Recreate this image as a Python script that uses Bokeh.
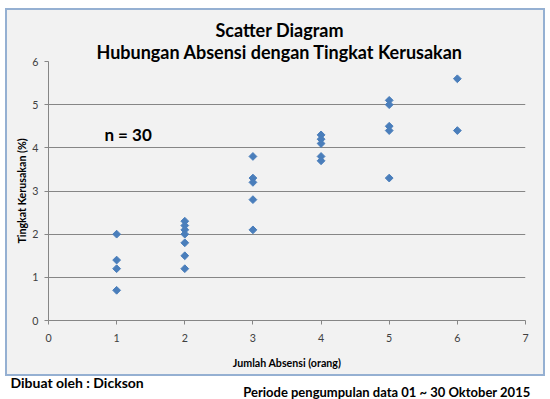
import math
from bokeh.plotting import figure
from bokeh.models import ColumnDataSource, Label, FixedTicker, Range1d, Title
from bokeh.embed import file_html
from bokeh.resources import INLINE

# Data
absensi = [1, 1, 1, 1,
           2, 2, 2, 2, 2, 2, 2,
           3, 3, 3, 3, 3,
           4, 4, 4, 4, 4,
           5, 5, 5, 5, 5,
           6, 6]
kerusakan = [2.0, 1.4, 1.2, 0.7,
             2.3, 2.2, 2.1, 2.0, 1.8, 1.5, 1.2,
             3.8, 3.3, 3.2, 2.8, 2.1,
             4.3, 4.2, 4.1, 3.8, 3.7,
             5.1, 5.0, 4.5, 4.4, 3.3,
             5.6, 4.4]
x_ticks = [0, 1, 2, 3, 4, 5, 6, 7]
y_ticks = [0, 1, 2, 3, 4, 5, 6]

title_line1 = "Scatter Diagram"
title_line2 = "Hubungan Absensi dengan Tingkat Kerusakan"
n_text = "n = 30"
x_label = "Jumlah Absensi (orang)"
y_label = "Tingkat Kerusakan (%)"
footer_left = "Dibuat oleh : Dickson"
footer_right = "Periode pengumpulan data 01 ~ 30 Oktober 2015"

FONT = "Lato"
BG = "#f2f2f2"
W, H = 550, 399

p = figure(width=W, height=H, output_backend="svg", toolbar_location=None,
           x_range=Range1d(0, 7), y_range=Range1d(0, 6),
           min_border_left=48, min_border_right=25,
           min_border_top=61, min_border_bottom=79, title=None)
p.background_fill_color = BG
p.border_fill_color = None
p.outline_line_color = None
# grey chart area with a light blue frame, white strip below it
p.styles = {
    "background-color": "white",
    "background-image": "linear-gradient(#f2f2f2, #f2f2f2), linear-gradient(#95b0d2, #95b0d2)",
    "background-position": "7px 10px, 5px 8px",
    "background-size": "536px 364px, 540px 368px",
    "background-repeat": "no-repeat",
}

# titles (the first added sits next to the frame)
p.add_layout(Title(text=title_line2, align="left", offset=48,
                   text_font=FONT, text_font_size="18px", text_font_style="bold",
                   text_color="black", standoff=-2), "above")
p.add_layout(Title(text=title_line1, align="left", offset=167,
                   text_font=FONT, text_font_size="18px", text_font_style="bold",
                   text_color="black", standoff=-2), "above")

src = ColumnDataSource(dict(x=absensi, y=kerusakan))
p.scatter("x", "y", source=src, marker="square", angle=math.pi / 4, size=5.5,
          fill_color="#4a7ebb", line_color="#4a7ebb")

for ax in (p.xaxis[0], p.yaxis[0]):
    ax.axis_line_color = "#868686"
    ax.major_tick_line_color = "#868686"
    ax.major_tick_out = 4
    ax.major_tick_in = 0
    ax.minor_tick_line_color = None
    ax.major_label_text_font = FONT
    ax.major_label_text_font_size = "8pt"
    ax.major_label_text_color = "#404040"
    ax.axis_label_text_font = FONT
    ax.axis_label_text_font_size = "8pt"
    ax.axis_label_text_font_style = "bold"
    ax.axis_label_text_color = "#000000"

p.xaxis.ticker = FixedTicker(ticks=x_ticks)
p.yaxis.ticker = FixedTicker(ticks=y_ticks)
p.xaxis.axis_label = x_label
p.yaxis.axis_label = y_label
p.xaxis.major_label_standoff = 9
p.xaxis.axis_label_standoff = 11
p.yaxis.major_label_standoff = 6
p.yaxis.axis_label_standoff = 1

p.xgrid.grid_line_color = None
p.ygrid.grid_line_color = "#868686"
p.ygrid.ticker = FixedTicker(ticks=y_ticks)

p.add_layout(Label(x=0.82, y=4.31, text=n_text, text_font=FONT, text_font_size="17px",
                   text_font_style="bold", text_align="left", text_baseline="middle",
                   text_color="black"))

# footer: the right text is pulled up so that it shares the left text's row
p.add_layout(Title(text=footer_left, align="left", offset=-38,
                   text_font=FONT, text_font_size="14px", text_font_style="bold",
                   text_color="black", standoff=0), "below")
p.add_layout(Title(text=footer_right, align="right", offset=-5,
                   text_font=FONT, text_font_size="13px", text_font_style="bold",
                   text_color="black", standoff=-17), "below")

open("out.html", "w").write(file_html(p, INLINE))
